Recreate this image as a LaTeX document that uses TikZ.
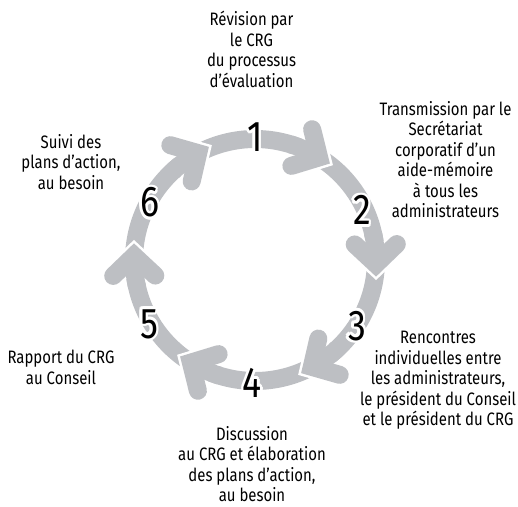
\documentclass[tikz,border=0pt]{standalone}
\usepackage{fontspec}
\setmainfont[FakeStretch=0.83]{Fira Sans}
\usetikzlibrary{calc}
\definecolor{ringgray}{RGB}{189,191,195}
\begin{document}
\begin{tikzpicture}[x=1pt,y=1pt,
  lbl/.style={align=center, inner sep=0pt, anchor=north,
    font=\fontsize{18}{20.5}\selectfont, execute at begin node={\rule{0pt}{15pt}}},
  num/.style={inner sep=0pt, anchor=base, font=\fontsize{43}{43}\selectfont},
  ringline/.style={draw=ringgray, line width=18pt},
  headline/.style={draw=ringgray, line width=18pt, line cap=round, line join=miter},
  headhalo/.style={draw=white, line width=23pt, line cap=round, line join=miter}
]
\useasboundingbox (0,0) rectangle (518,506);
\coordinate (C) at (255,246);
% arcs
\foreach \k in {1,...,6} {
  \pgfmathsetmacro\a{58-60*(\k-1)}
  \draw[ringline] ($(C)+(\a+60:121pt)$) arc[start angle=\a+60, end angle=\a, radius=121pt];
}
% arrow heads
\foreach \k in {1,...,6} {
  \pgfmathsetmacro\a{58-60*(\k-1)}
  \coordinate (P\k) at ($(C)+(\a:121pt)$);
  \draw[headhalo] ($(P\k)+(\a+46:29pt)$) -- (P\k) -- ($(P\k)+(\a+139:29pt)$);
  \draw[headline] ($(P\k)+(\a+46:29pt)$) -- (P\k) -- ($(P\k)+(\a+139:29pt)$);
  \draw[ringline] ($(C)+(\a+15:121pt)$) arc[start angle=\a+15, end angle=\a, radius=121pt];
}
% numbers with white halo
\foreach \n/\x/\y in {1/255/354, 2/362/281, 3/357/166, 4/252/109, 5/149/168, 6/150/289} {
  \foreach \ang in {0,30,...,330}
    \node[num, text=white] at ($(\x,\y)+(\ang:2.5pt)$) {\n};
  \node[num] (n\n) at (\x,\y) {\n};
}
% labels
\node[lbl] (l1) at (251.5,495) {Révision par\\le CRG\\du processus\\d’évaluation};
\node[lbl] (l2) at (445.5,405) {Transmission par le\\Secrétariat\\corporatif d’un\\aide-mémoire\\à tous les\\administrateurs};
\node[lbl] (l3) at (438,175) {Rencontres\\individuelles entre\\les administrateurs,\\le président du Conseil\\et le président du CRG};
\node[lbl] (l4) at (252,80) {Discussion\\au CRG et élaboration\\des plans d’action,\\au besoin};
\node[lbl] (l5) at (61,156) {Rapport du CRG\\au Conseil};
\node[lbl] (l6) at (71,372) {Suivi des\\plans d’action,\\au besoin};
\end{tikzpicture}
\end{document}
